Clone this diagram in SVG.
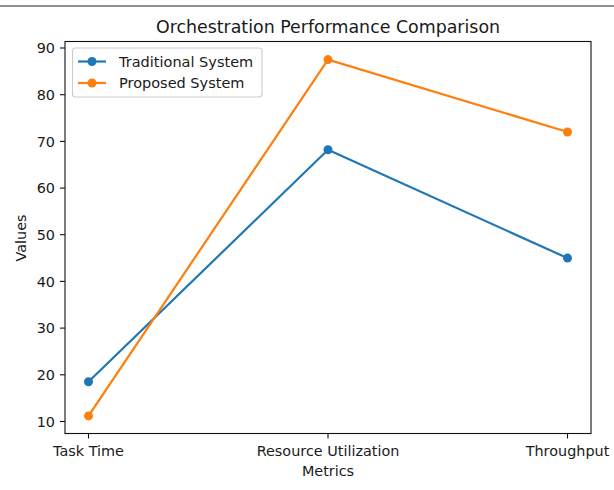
<svg xmlns="http://www.w3.org/2000/svg" width="614" height="490" viewBox="0 0 614 490">
  <style>
    text { font-family: "DejaVu Sans", "Liberation Sans", sans-serif; fill: #1a1a1a; }
    .tick { font-size: 14.4px; }
    .ylab { text-anchor: end; }
    .xlab { text-anchor: middle; }
    .title { font-size: 17.4px; text-anchor: middle; }
    .axlabel { font-size: 14.4px; text-anchor: middle; }
    .spine { fill: none; stroke: #111; stroke-width: 1.1; }
    .tk { stroke: #111; stroke-width: 1.1; }
    .trad { fill: none; stroke: #1f77b4; stroke-width: 2.2; stroke-linejoin: round; stroke-linecap: square; }
    .prop { fill: none; stroke: #ff7f0e; stroke-width: 2.2; stroke-linejoin: round; stroke-linecap: square; }
    .mtrad { fill: #1f77b4; }
    .mprop { fill: #ff7f0e; }
    .legtext { font-size: 14.5px; }
  </style>

  <rect x="0" y="0" width="614" height="490" fill="#fff"/>
  <!-- rule across the top -->
  <line x1="0" y1="6" x2="614" y2="6" stroke="#222" stroke-width="1.2"/>

  <!-- title -->
  <text class="title" x="328" y="33">Orchestration Performance Comparison</text>

  <!-- y ticks -->
  <g id="y-axis">
    <g class="tk">
      <line x1="60" y1="421.5" x2="65" y2="421.5"/>
      <line x1="60" y1="374.8" x2="65" y2="374.8"/>
      <line x1="60" y1="328.1" x2="65" y2="328.1"/>
      <line x1="60" y1="281.4" x2="65" y2="281.4"/>
      <line x1="60" y1="234.7" x2="65" y2="234.7"/>
      <line x1="60" y1="188.1" x2="65" y2="188.1"/>
      <line x1="60" y1="141.4" x2="65" y2="141.4"/>
      <line x1="60" y1="94.7" x2="65" y2="94.7"/>
      <line x1="60" y1="48" x2="65" y2="48"/>
    </g>
    <g class="tick ylab">
      <text x="55" y="426.7">10</text>
      <text x="55" y="380">20</text>
      <text x="55" y="333.3">30</text>
      <text x="55" y="286.6">40</text>
      <text x="55" y="239.9">50</text>
      <text x="55" y="193.3">60</text>
      <text x="55" y="146.6">70</text>
      <text x="55" y="99.9">80</text>
      <text x="55" y="53.2">90</text>
    </g>
    <text class="axlabel" transform="translate(26,238) rotate(-90)">Values</text>
  </g>

  <!-- x ticks -->
  <g id="x-axis">
    <g class="tk">
      <line x1="88.5" y1="433.5" x2="88.5" y2="438.5"/>
      <line x1="328" y1="433.5" x2="328" y2="438.5"/>
      <line x1="567.5" y1="433.5" x2="567.5" y2="438.5"/>
    </g>
    <g class="tick xlab">
      <text x="88.5" y="456">Task Time</text>
      <text x="328" y="456">Resource Utilization</text>
      <text x="567.5" y="456">Throughput</text>
    </g>
    <text class="axlabel" x="328" y="476">Metrics</text>
  </g>

  <!-- data series -->
  <g id="connectors">
    <polyline id="traditional-line" class="trad" points="88.5,381.8 328,149.8 567.5,258.1"/>
    <polyline id="proposed-line" class="prop" points="88.5,415.9 328,59.6 567.5,132"/>
  </g>
  <g id="traditional-points" class="mtrad">
    <circle cx="88.5" cy="381.8" r="4.5"/>
    <circle cx="328" cy="149.8" r="4.5"/>
    <circle cx="567.5" cy="258.1" r="4.5"/>
  </g>
  <g id="proposed-points" class="mprop">
    <circle cx="88.5" cy="415.9" r="4.5"/>
    <circle cx="328" cy="59.6" r="4.5"/>
    <circle cx="567.5" cy="132" r="4.5"/>
  </g>

  <!-- axes frame -->
  <rect class="spine" x="65" y="41.5" width="526" height="392"/>

  <!-- legend -->
  <g id="legend">
    <rect x="72.5" y="48" width="189.5" height="49" rx="3" ry="3" fill="#fff" fill-opacity="0.8" stroke="#ccc" stroke-width="1.1"/>
    <line x1="78" y1="61.5" x2="106" y2="61.5" stroke="#1f77b4" stroke-width="2.2"/>
    <circle cx="92" cy="61.5" r="4.5" fill="#1f77b4"/>
    <text class="legtext" x="119" y="66.7">Traditional System</text>
    <line x1="78" y1="83" x2="106" y2="83" stroke="#ff7f0e" stroke-width="2.2"/>
    <circle cx="92" cy="83" r="4.5" fill="#ff7f0e"/>
    <text class="legtext" x="119" y="88.2">Proposed System</text>
  </g>
</svg>
